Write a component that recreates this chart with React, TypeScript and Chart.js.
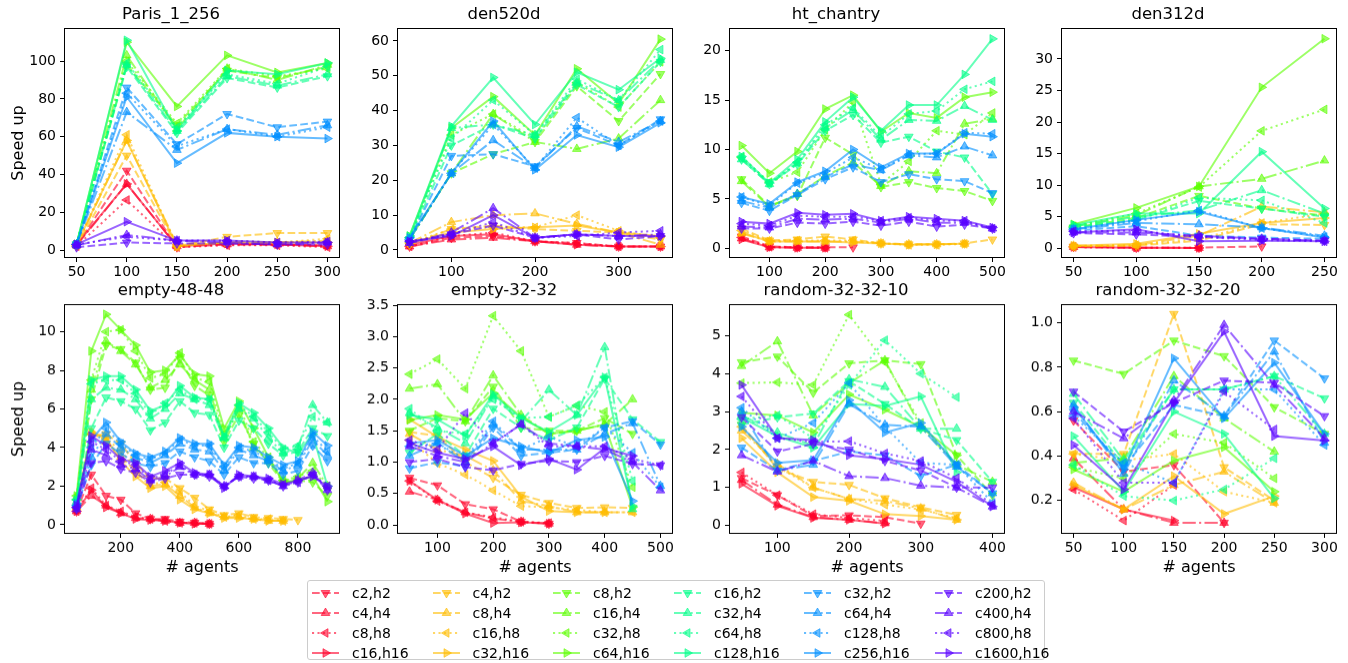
import React, { useEffect, useRef } from 'react';
import { Chart, registerables } from 'chart.js';
Chart.register(...registerables);

// ---------------- DATA ----------------
const xParis = [50, 100, 150, 200, 250, 300];
const parisRed = [[2.5, 42, 1.5, 3, 3, 2.5], [2.5, 35, 2, 3, 3, 2], [2, 26.5, 1.5, 2.5, 2.5, 1.5], [3, 35, 2, 3.5, 3, 2]];
const parisOrange = [[2, 50, 2, 7, 9, 9], [2.5, 58, 3, 4, 4, 5], [2.5, 61, 2, 5, 4, 6], [3, 58, 2, 4, 4, 4]];
const parisGreen = [[3, 98, 66, 95, 91, 97], [3, 103, 64, 96, 90, 98], [3, 100, 67, 96, 92, 96], [3, 110, 76, 103, 94, 99]];
const parisMint = [[3, 97, 62, 91, 86, 92], [3, 98, 63, 92, 87, 93], [3, 99, 65, 93, 88, 97], [3, 111, 63, 95, 93, 99]];
const parisBlue = [[3, 86, 56, 72, 65, 68], [3, 73, 53, 64, 61, 66], [3, 83, 55, 64, 60, 65], [3, 81, 46, 62, 60, 59]];
const parisPurple = [[1.5, 4, 3.5, 3.5, 3, 3], [2.5, 8, 5, 4, 3, 4], [3, 7, 5, 5, 4, 4.5], [3, 15, 5, 5, 4, 4]];

const xD520 = [50, 100, 150, 200, 250, 300, 350];
const d520Red = [[1, 3.5, 4, 2.5, 2, 1, 1], [1, 3, 3.5, 2.5, 1.5, 1, 1], [1, 4, 5, 2.5, 2, 1, 1], [1.5, 4, 4.5, 2.5, 1.5, 1, 1]];
const d520Orange = [[1.5, 6, 7, 6, 5.5, 5, 3], [2, 8, 10, 10.5, 7.5, 5, 1.5], [2, 6, 6.5, 6.5, 10, 5.5, 3.5], [2, 5, 6, 6.5, 7, 5, 4]];
const d520Green = [[3, 22, 27.5, 31, 47, 37, 50.5], [3, 22, 39, 31, 29, 32, 43], [3.5, 33, 39, 32, 48, 41, 54], [4, 35, 44, 33, 52, 42, 60.5]];
const d520Mint = [[3, 30, 36, 32, 47.5, 41, 54], [3, 35, 36, 33, 48, 43, 54.5], [3.5, 32, 43, 33, 49, 43, 57.5], [4, 35.5, 49.5, 36, 51, 46, 55]];
const d520Blue = [[3, 27, 27.5, 24, 35, 30, 37.5], [3, 22, 31.5, 23.5, 35.5, 31, 37], [3, 22, 36, 23.5, 38, 30, 37], [3.5, 22, 37, 23, 33, 29.5, 36.5]];
const d520Purple = [[2, 4.5, 7, 3.5, 4.5, 3, 4], [2, 5, 12, 3.5, 4.5, 4, 4.5], [2.5, 4.5, 8, 3.5, 4, 5, 5.5], [2.5, 4, 10, 3.5, 4.5, 4, 4]];

const xHt = [50, 100, 150, 200, 250, 300, 350, 400, 450, 500];
const htRed = [[1.2, 0.2, 0.1, 0.1, 0.1], [1.0, 0.1, 0.05, 0.05], [1.1, 0.15, 0.1, 0.05], [0.9, 0.1, 0.05, 0.05]];
const htOrange = [[2.0, 0.8, 0.9, 1.2, 0.9, 0.5, 0.4, 0.4, 0.5, 0.9], [1.5, 0.7, 0.7, 0.7, 0.7, 0.5, 0.4, 0.4, 0.45], [1.8, 0.75, 0.8, 0.8, 0.8, 0.5, 0.35, 0.35, 0.45], [1.6, 0.7, 0.7, 0.7, 0.6, 0.5, 0.35, 0.4, 0.45]];
const htGreen = [[7.0, 4.3, 5.3, 11.2, 9.5, 6.2, 6.7, 6.1, 5.8, 4.8], [6.8, 4.2, 5.5, 7.3, 8.7, 6.3, 7.8, 7.6, 12.6, 13.1], [9.2, 6.7, 7.7, 12.0, 14.8, 6.5, 8.8, 11.9, 11.5, 13.7], [10.4, 7.6, 9.8, 14.1, 15.5, 11.8, 13.7, 13.2, 15.3, 15.8]];
const htMint = [[9.0, 6.5, 8.5, 11.9, 13.5, 10.7, 11.3, 9.8, 9.2, 5.5], [9.0, 6.5, 8.6, 12.2, 14.0, 11.0, 13.0, 12.9, 14.4, 13.0], [9.3, 6.6, 8.7, 12.5, 14.2, 11.3, 13.6, 13.9, 16.1, 16.9], [9.3, 6.6, 9.0, 12.8, 15.3, 11.9, 14.5, 14.5, 17.6, 21.2]];
const htBlue = [[4.6, 3.8, 5.4, 7.0, 8.2, 6.7, 7.5, 7.0, 6.8, 5.6], [4.8, 4.1, 5.5, 7.2, 8.5, 7.9, 9.4, 9.2, 10.3, 9.4], [5.2, 4.3, 6.6, 7.6, 9.2, 8.0, 9.5, 9.6, 11.7, 11.6], [5.2, 4.5, 6.7, 7.8, 10.0, 8.2, 9.6, 9.6, 11.6, 11.3]];
const htPurple = [[2.0, 2.0, 2.6, 2.5, 2.7, 2.3, 2.7, 2.2, 2.4, 2.0], [2.2, 2.1, 3.0, 2.9, 3.0, 2.6, 3.0, 2.6, 2.6, 2.0], [2.5, 2.3, 3.3, 3.2, 3.2, 2.8, 3.1, 2.8, 2.8, 2.0], [2.7, 2.5, 3.6, 3.4, 3.5, 2.8, 3.2, 3.0, 2.8, 2.1]];

const xD312 = [50, 100, 150, 200, 250];
const d312Red = [[0.2, 0.1, 0.1, 0.3], [0.2, 0.1, 0.05], [0.2, 0.1, 0.1], [0.2, 0.1, 0.05]];
const d312Orange = [[0.3, 0.4, 1.2, 3.8, 3.7], [0.4, 0.5, 2.0, 6.6, 5.7], [0.3, 0.5, 1.5, 4.0, 5.5], [0.4, 0.7, 2.3, 4.0, 4.8]];
const d312Green = [[3.3, 4.8, 8.3, 6.3, 5.2], [3.5, 5.2, 9.8, 11.0, 13.9], [3.5, 5.5, 9.7, 18.6, 22.0], [3.8, 6.4, 9.8, 25.5, 33.2]];
const d312Mint = [[3.3, 4.5, 7.5, 6.3, 5.0], [3.5, 5.0, 6.0, 9.2, 5.5], [3.3, 4.5, 8.0, 7.6, 4.0], [3.7, 5.5, 5.5, 15.3, 6.3]];
const d312Blue = [[2.8, 3.5, 2.0, 1.7, 1.5], [3.0, 4.0, 3.8, 3.3, 2.0], [3.0, 4.3, 6.0, 3.2, 1.8], [3.0, 4.5, 5.8, 3.2, 1.7]];
const d312Purple = [[2.4, 2.2, 1.8, 1.5, 1.2], [2.5, 2.5, 2.0, 1.5, 1.2], [2.7, 2.8, 1.8, 1.3, 1.1], [2.5, 3.0, 1.1, 1.2, 1.1]];

const xE48 = [50, 100, 150, 200, 250, 300, 350, 400, 450, 500, 550, 600, 650, 700, 750, 800, 850, 900];
const e48Red = [[0.7, 2.6, 1.5, 1.3, 0.6, 0.3, 0.3, 0.15, 0.1, 0.05], [0.7, 1.5, 1.0, 0.6, 0.35, 0.3, 0.2, 0.1, 0.1, 0.05], [0.7, 1.9, 1.0, 0.7, 0.4, 0.3, 0.2, 0.1, 0.1, 0.05], [0.7, 1.8, 0.9, 0.6, 0.3, 0.25, 0.2, 0.1, 0.05, 0.05]];
const e48Orange = [[0.9, 4.6, 4.7, 4.2, 3.2, 2.4, 2.4, 1.9, 1.4, 0.8, 0.5, 0.6, 0.4, 0.35, 0.3, 0.25], [0.9, 4.8, 4.3, 3.5, 2.8, 2.0, 2.1, 1.5, 0.9, 0.6, 0.4, 0.4, 0.3, 0.2, 0.2], [0.9, 4.7, 4.5, 3.8, 3.0, 2.1, 2.2, 1.7, 1.0, 0.7, 0.4, 0.5, 0.3, 0.3, 0.2], [1.0, 4.8, 4.5, 3.3, 2.5, 1.9, 2.0, 1.3, 0.8, 0.6, 0.35, 0.35, 0.3, 0.2, 0.2]];
const e48Green = [[1.2, 6.5, 9.3, 9.1, 8.4, 7.0, 7.1, 8.6, 7.2, 6.7, 4.3, 5.7, 4.2, 3.2, 2.2, 2.3, 2.2, 1.5], [1.4, 7.0, 9.5, 9.0, 8.3, 7.1, 7.5, 8.3, 7.5, 7.0, 4.5, 6.0, 4.0, 3.3, 2.3, 2.4, 3.2, 2.0], [1.5, 7.5, 10.0, 10.1, 9.0, 7.6, 7.8, 8.9, 7.6, 7.4, 4.7, 6.2, 4.3, 3.5, 2.3, 2.5, 2.8, 2.0], [1.5, 9.0, 10.9, 10.1, 9.3, 7.9, 8.0, 8.8, 7.8, 7.7, 5.0, 6.4, 5.0, 3.5, 2.2, 2.3, 2.5, 1.2]];
const e48Mint = [[1.2, 5.0, 6.6, 6.4, 6.0, 4.9, 5.3, 6.4, 5.8, 5.7, 4.0, 5.4, 5.0, 4.2, 3.6, 3.8, 5.0, 4.6], [1.2, 6.5, 7.1, 7.0, 6.5, 5.5, 6.0, 6.8, 6.5, 6.2, 4.5, 6.0, 5.5, 4.5, 3.7, 4.0, 6.2, 5.3], [1.3, 7.3, 7.5, 7.5, 6.8, 5.7, 6.3, 7.0, 6.5, 6.5, 4.5, 6.2, 5.6, 4.8, 3.9, 4.1, 5.6, 5.3], [1.3, 7.5, 7.7, 7.7, 7.0, 5.9, 6.2, 7.2, 6.6, 6.5, 4.6, 6.3, 5.8, 5.0, 4.0, 3.7, 4.7, 2.0]];
const e48Blue = [[0.9, 3.1, 4.2, 3.7, 3.2, 3.0, 3.2, 3.8, 3.5, 3.3, 2.6, 3.5, 3.2, 3.2, 2.6, 2.8, 4.1, 3.3], [1.0, 3.5, 4.7, 4.0, 3.5, 3.2, 3.6, 4.2, 3.9, 3.8, 2.8, 3.9, 3.6, 3.3, 2.8, 3.1, 4.4, 3.6], [1.0, 4.0, 5.0, 4.2, 3.6, 3.4, 3.7, 4.4, 4.1, 4.1, 3.0, 4.0, 3.8, 3.4, 2.9, 3.2, 4.6, 3.8], [1.1, 4.4, 5.3, 4.3, 3.7, 3.5, 3.8, 4.5, 4.2, 4.2, 3.1, 4.1, 4.0, 3.5, 3.1, 3.3, 4.8, 4.1]];
const e48Purple = [[0.8, 3.2, 3.3, 2.9, 2.7, 2.2, 2.4, 2.6, 2.6, 2.5, 2.0, 2.5, 2.4, 2.3, 2.0, 2.2, 2.6, 1.8], [0.8, 3.9, 3.6, 3.1, 2.9, 2.3, 2.5, 3.0, 2.6, 2.6, 2.0, 2.5, 2.5, 2.3, 2.0, 2.3, 2.7, 1.8], [0.9, 4.3, 3.9, 3.3, 3.1, 2.4, 2.6, 3.1, 2.6, 2.6, 2.0, 2.5, 2.5, 2.3, 2.1, 2.2, 2.6, 2.0], [1.0, 4.6, 4.1, 3.4, 3.2, 2.5, 2.8, 3.2, 2.7, 2.6, 1.9, 2.6, 2.5, 2.4, 2.1, 2.3, 2.5, 2.0]];

const xE32 = [50, 100, 150, 200, 250, 300, 350, 400, 450, 500];
const e32Red = [[0.75, 0.63, 0.33, 0.25, 0.05, 0.02], [0.53, 0.4, 0.2, 0.1, 0.05, 0.02], [0.7, 0.38, 0.2, 0.12, 0.05, 0.03], [0.7, 0.4, 0.18, 0.03, 0.04, 0.02]];
const e32Orange = [[1.48, 1.42, 1.0, 0.75, 0.48, 0.35, 0.27, 0.28, 0.27], [1.45, 1.2, 1.1, 0.87, 0.38, 0.3, 0.2, 0.2, 0.2], [1.35, 0.98, 0.8, 0.55, 0.3, 0.28, 0.24, 0.2, 0.2], [1.68, 1.4, 1.2, 1.02, 0.45, 0.22, 0.2, 0.2]];
const e32Green = [[1.5, 1.7, 1.65, 2.2, 1.55, 1.5, 1.5, 1.7, 1.45], [2.17, 2.24, 1.65, 2.38, 1.75, 1.45, 1.5, 1.6, 2.0], [2.4, 2.64, 2.17, 3.33, 2.77, 1.72, 1.9, 1.8, 0.6], [1.67, 1.75, 1.68, 2.1, 1.72, 1.45, 1.5, 1.6, 0.28]];
const e32Mint = [[1.15, 1.45, 1.1, 1.85, 1.55, 1.35, 1.55, 2.33, 1.68, 1.32], [1.78, 1.55, 1.3, 2.05, 1.65, 2.15, 1.75, 2.83, 0.25], [1.85, 1.5, 1.45, 2.0, 1.7, 1.72, 1.9, 2.35, 0.7], [1.75, 1.68, 1.42, 2.08, 1.7, 1.48, 1.75, 2.35, 0.3]];
const e32Blue = [[0.9, 1.0, 0.93, 1.55, 1.1, 1.15, 1.2, 1.55, 1.65, 1.28], [1.1, 1.3, 1.0, 1.6, 1.2, 1.2, 1.2, 1.45, 1.62, 0.62], [1.25, 1.3, 1.05, 1.65, 1.2, 1.4, 1.25, 1.55, 1.15, 0.6], [1.3, 1.35, 1.1, 1.38, 1.25, 1.15, 1.35, 1.4, 0.38]];
const e32Purple = [[1.0, 1.05, 0.92, 0.87, 0.97, 1.02, 1.0, 1.1, 0.97, 0.95], [1.25, 1.1, 1.0, 1.3, 1.6, 1.3, 1.25, 1.2, 1.0, 0.55], [1.35, 1.2, 1.78, 1.3, 1.6, 1.25, 1.25, 1.25, 1.05, 0.95], [1.3, 1.15, 1.05, 1.25, 0.95, 1.05, 0.88, 1.22, 1.1]];

const xR10 = [50, 100, 150, 200, 250, 300, 350, 400];
const r10Red = [[1.25, 0.8, 0.25, 0.27, 0.22, 0.05], [1.2, 0.55, 0.22, 0.15, 0.06], [1.4, 0.8, 0.3, 0.2, 0.12], [1.1, 0.52, 0.2, 0.15, 0.05]];
const r10Orange = [[2.65, 1.5, 1.15, 1.07, 0.72, 0.48, 0.28], [2.5, 1.62, 1.0, 0.7, 0.65, 0.45, 0.15], [2.6, 1.55, 1.0, 0.7, 0.55, 0.42, 0.2], [2.3, 1.4, 0.75, 0.65, 0.3, 0.25, 0.15]];
const r10Green = [[4.3, 4.45, 3.5, 4.27, 4.35, 4.25, 1.85, 0.8], [4.2, 4.85, 2.9, 3.75, 4.35, 2.6, 1.6, 1.15], [3.75, 3.77, 3.7, 5.55, 4.3, 2.7, 1.6], [2.97, 2.9, 2.45, 3.45, 3.05, 2.6, 1.85]];
const r10Mint = [[2.65, 2.85, 2.95, 3.8, 3.2, 2.55, 2.25, 1.15], [2.9, 2.45, 2.1, 3.85, 3.65, 2.55, 2.55], [2.8, 2.9, 2.3, 3.7, 4.88, 4.0, 3.38], [2.85, 2.35, 2.05, 3.2, 3.15, 3.4, 1.4]];
const r10Blue = [[2.05, 1.45, 1.7, 1.95, 1.85, 1.3, 1.6, 0.85], [3.0, 1.45, 1.6, 3.2, 2.65, 2.6, 1.55, 0.85], [3.1, 2.3, 2.7, 3.75, 2.6, 1.65, 1.6, 0.6], [2.6, 1.65, 1.72, 3.3, 2.45, 2.7, 1.6]];
const r10Purple = [[2.85, 1.95, 2.15, 2.0, 1.7, 1.45, 1.0, 1.0], [1.85, 1.42, 1.7, 1.3, 1.25, 1.05, 1.0, 0.5], [3.4, 2.3, 2.2, 2.22, 1.9, 1.7, 1.25, 0.55], [3.7, 2.3, 2.25, 1.85, 1.75, 1.6, 1.15, 0.5]];

const xR20 = [50, 100, 150, 200, 250, 300];
const r20Red = [[0.56, 0.33, 0.36, 0.1], [0.39, 0.16, 0.1, 0.1], [0.25, 0.11, 0.27], [0.26, 0.16, 0.11]];
const r20Orange = [[0.41, 0.41, 1.04, 0.35, 0.2], [0.28, 0.16, 0.27, 0.33, 0.19], [0.41, 0.38, 0.41, 0.24, 0.19], [0.27, 0.16, 0.31, 0.14, 0.22]];
const r20Green = [[0.83, 0.77, 0.92, 0.85, 0.62, 0.5], [0.37, 0.39, 0.76, 0.57, 0.42], [0.35, 0.3, 0.5, 0.46, 0.3], [0.34, 0.24, 0.38, 0.44, 0.24]];
const r20Mint = [[0.64, 0.36, 0.7, 0.7, 0.76, 0.66], [0.68, 0.38, 0.7, 0.7, 0.76, 0.5], [0.36, 0.22, 0.2, 0.25, 0.39], [0.49, 0.24, 0.6, 0.5, 0.21]];
const r20Blue = [[0.6, 0.35, 0.63, 0.58, 0.92, 0.75], [0.63, 0.32, 0.74, 0.58, 0.87, 0.46], [0.58, 0.37, 0.28, 0.7, 0.7, 0.45], [0.62, 0.34, 0.84, 0.57, 0.82, 0.5]];
const r20Purple = [[0.69, 0.51, 0.64, 0.74, 0.73, 0.58], [0.6, 0.48, 0.65, 0.99, 0.72, 0.48], [0.57, 0.28, 0.28, 0.69, 0.52], [0.45, 0.25, 0.64, 0.96, 0.49, 0.47]];

const legendLabels = [
  ['c2,h2', 'c4,h4', 'c8,h8', 'c16,h16'],
  ['c4,h2', 'c8,h4', 'c16,h8', 'c32,h16'],
  ['c8,h2', 'c16,h4', 'c32,h8', 'c64,h16'],
  ['c16,h2', 'c32,h4', 'c64,h8', 'c128,h16'],
  ['c32,h2', 'c64,h4', 'c128,h8', 'c256,h16'],
  ['c200,h2', 'c400,h4', 'c800,h8', 'c1600,h16'],
];

// ---------------- STYLE ----------------
const FONT = "'DejaVu Sans', sans-serif";
const FAMILY_RGB = [[255, 0, 41], [255, 188, 0], [92, 255, 0], [0, 255, 137], [0, 143, 255], [88, 0, 255]];
const ALPHA = 0.6;
const DASHES = [[7.7, 3.3], [13.3, 3.3, 2.1, 3.3], [2.1, 3.4], []];
const ROTATIONS = [180, 0, 270, 90];
const rgba = (f: number) => `rgba(${FAMILY_RGB[f][0]},${FAMILY_RGB[f][1]},${FAMILY_RGB[f][2]},${ALPHA})`;

const PW = 276;
const YW = 62;
const PR = 12;
const TITLE_H = 28;

type Panel = {
  title: string; xs: number[]; fams: number[][][]; xmin: number; xmax: number; xticks: number[];
  ymin: number; ymax: number; yticks: number[]; dec: number; left: number; top: number; ph: number;
  yTitle: boolean; xTitle: boolean;
};

const panels: Panel[] = [
  { title: 'Paris_1_256', xs: xParis, fams: [parisRed, parisOrange, parisGreen, parisMint, parisBlue, parisPurple], xmin: 37.5, xmax: 312.5, xticks: [50, 100, 150, 200, 250, 300], ymin: -4.2, ymax: 117.5, yticks: [0, 20, 40, 60, 80, 100], dec: 0, left: 64, top: 28, ph: 230, yTitle: true, xTitle: false },
  { title: 'den520d', xs: xD520, fams: [d520Red, d520Orange, d520Green, d520Mint, d520Blue, d520Purple], xmin: 35, xmax: 365, xticks: [100, 200, 300], ymin: -2.3, ymax: 63.7, yticks: [0, 10, 20, 30, 40, 50, 60], dec: 0, left: 397, top: 28, ph: 230, yTitle: false, xTitle: false },
  { title: 'ht_chantry', xs: xHt, fams: [htRed, htOrange, htGreen, htMint, htBlue, htPurple], xmin: 27.5, xmax: 522.5, xticks: [100, 200, 300, 400, 500], ymin: -0.98, ymax: 22.3, yticks: [0, 5, 10, 15, 20], dec: 0, left: 729, top: 28, ph: 230, yTitle: false, xTitle: false },
  { title: 'den312d', xs: xD312, fams: [d312Red, d312Orange, d312Green, d312Mint, d312Blue, d312Purple], xmin: 40, xmax: 260, xticks: [50, 100, 150, 200, 250], ymin: -1.54, ymax: 34.9, yticks: [0, 5, 10, 15, 20, 25, 30], dec: 0, left: 1061, top: 28, ph: 230, yTitle: false, xTitle: false },
  { title: 'empty-48-48', xs: xE48, fams: [e48Red, e48Orange, e48Green, e48Mint, e48Blue, e48Purple], xmin: 7.5, xmax: 942.5, xticks: [200, 400, 600, 800], ymin: -0.47, ymax: 11.43, yticks: [0, 2, 4, 6, 8, 10], dec: 0, left: 64, top: 304, ph: 229.5, yTitle: true, xTitle: true },
  { title: 'empty-32-32', xs: xE32, fams: [e32Red, e32Orange, e32Green, e32Mint, e32Blue, e32Purple], xmin: 27.5, xmax: 522.5, xticks: [100, 200, 300, 400, 500], ymin: -0.143, ymax: 3.516, yticks: [0, 0.5, 1, 1.5, 2, 2.5, 3, 3.5], dec: 1, left: 397, top: 304, ph: 229.5, yTitle: false, xTitle: true },
  { title: 'random-32-32-10', xs: xR10, fams: [r10Red, r10Orange, r10Green, r10Mint, r10Blue, r10Purple], xmin: 32.5, xmax: 417.5, xticks: [100, 200, 300, 400], ymin: -0.22, ymax: 5.83, yticks: [0, 1, 2, 3, 4, 5], dec: 0, left: 729, top: 304, ph: 229.5, yTitle: false, xTitle: true },
  { title: 'random-32-32-20', xs: xR20, fams: [r20Red, r20Orange, r20Green, r20Mint, r20Blue, r20Purple], xmin: 37.5, xmax: 312.5, xticks: [50, 100, 150, 200, 250, 300], ymin: 0.05, ymax: 1.084, yticks: [0.2, 0.4, 0.6, 0.8, 1.0], dec: 1, left: 1061, top: 304, ph: 229.5, yTitle: false, xTitle: true },
];

const framePlugin = {
  id: 'frame',
  afterDatasetsDraw(chart: any) {
    const { ctx, chartArea } = chart;
    const l = Math.round(chartArea.left) + 0.5;
    const t = Math.round(chartArea.top) + 0.5;
    const r = Math.round(chartArea.right) - 0.5;
    const b = Math.round(chartArea.bottom) - 0.5;
    ctx.save();
    ctx.strokeStyle = '#000';
    ctx.lineWidth = 1;
    ctx.strokeRect(l, t, r - l, b - t);
    ctx.restore();
  },
};

function PanelChart({ p }: { p: Panel }) {
  const ref = useRef<HTMLCanvasElement>(null);
  const xh = p.xTitle ? 47 : 30;
  const cw = YW + PW + PR;
  const ch = TITLE_H + p.ph + xh;
  useEffect(() => {
    const datasets: any[] = [];
    let idx = 0;
    p.fams.forEach((fam, f) => {
      fam.forEach((vals, s) => {
        const c = rgba(f);
        datasets.push({
          label: legendLabels[f][s],
          data: vals.map((v, i) => ({ x: p.xs[i], y: v })),
          borderColor: c,
          backgroundColor: c,
          borderWidth: 2,
          borderDash: DASHES[s],
          pointStyle: 'triangle',
          rotation: ROTATIONS[s],
          pointRadius: 5,
          pointBorderWidth: 1,
          pointBackgroundColor: c,
          pointBorderColor: c,
          tension: 0,
          fill: false,
          order: 100 - idx,
        });
        idx++;
      });
    });
    const tickFont = { family: FONT, size: 14 };
    const grid = { display: true, drawOnChartArea: false, drawTicks: true, tickLength: 4, color: '#000', lineWidth: 1 };
    const chart = new Chart(ref.current as HTMLCanvasElement, {
      type: 'line',
      data: { datasets },
      plugins: [framePlugin],
      options: {
        animation: false,
        responsive: false,
        events: [],
        layout: { padding: { left: 0, right: PR, top: 0, bottom: 0 } },
        plugins: {
          legend: { display: false },
          tooltip: { enabled: false },
          title: { display: true, text: p.title, color: '#000', font: { family: FONT, size: 16.5, weight: 'normal' }, padding: { top: 5, bottom: 3.2 } },
        },
        scales: {
          x: {
            type: 'linear', min: p.xmin, max: p.xmax,
            afterBuildTicks: (s: any) => { s.ticks = p.xticks.map((v) => ({ value: v })); },
            afterFit: (s: any) => { s.height = xh; },
            grid, border: { display: false },
            ticks: { color: '#000', font: tickFont, padding: 2, maxRotation: 0, autoSkip: false, callback: (v: any) => String(v) },
            title: { display: p.xTitle, text: '# agents', color: '#000', font: { family: FONT, size: 16 }, padding: { top: 4, bottom: 4 } },
          },
          y: {
            type: 'linear', min: p.ymin, max: p.ymax,
            afterBuildTicks: (s: any) => { s.ticks = p.yticks.map((v) => ({ value: v })); },
            afterFit: (s: any) => { s.width = YW; },
            grid, border: { display: false },
            ticks: { color: '#000', font: tickFont, padding: 4, autoSkip: false, callback: (v: any) => Number(v).toFixed(p.dec) },
            title: { display: p.yTitle, text: 'Speed up', color: '#000', font: { family: FONT, size: 16 }, padding: { top: 7, bottom: 4 } },
          },
        },
      } as any,
    });
    return () => chart.destroy();
  }, []);
  return (
    <canvas
      ref={ref}
      width={cw}
      height={ch}
      style={{ position: 'absolute', left: p.left - YW, top: p.top - TITLE_H, width: cw, height: ch }}
    />
  );
}

const LEG_HANDLE_X = [312, 432.5, 553, 674, 804, 935];
const LEG_ROW_Y = [592.5, 612.5, 632.5, 652.5];

function Handle({ f, s }: { f: number; s: number }) {
  const c = rgba(f);
  const cx = 13.5, cy = 7, r = 5;
  const a0 = (ROTATIONS[s] * Math.PI) / 180;
  const pts = [0, 1, 2].map((k) => {
    const a = a0 + (k * 2 * Math.PI) / 3;
    return `${(cx + Math.sin(a) * r).toFixed(2)},${(cy - Math.cos(a) * r).toFixed(2)}`;
  }).join(' ');
  return (
    <svg width={27} height={14} style={{ position: 'absolute', left: 0, top: 0 }}>
      <line x1={0} y1={cy} x2={27} y2={cy} stroke={c} strokeWidth={2} strokeDasharray={DASHES[s].length ? DASHES[s].join(' ') : undefined} />
      <polygon points={pts} fill={c} stroke={c} strokeWidth={1} />
    </svg>
  );
}

function Legend() {
  const items: any[] = [];
  legendLabels.forEach((col, f) => {
    col.forEach((lab, s) => {
      const x = LEG_HANDLE_X[f];
      const y = LEG_ROW_Y[s];
      items.push(
        <div key={lab} style={{ position: 'absolute', left: x, top: y - 7, width: 27, height: 14 }}>
          <Handle f={f} s={s} />
        </div>
      );
      items.push(
        <div key={lab + 't'} style={{ position: 'absolute', left: x + 40, top: y - 10, height: 20, lineHeight: '20px', fontFamily: FONT, fontSize: 14, color: '#000', whiteSpace: 'nowrap' }}>
          {lab}
        </div>
      );
    });
  });
  return (
    <>
      <div style={{ position: 'absolute', left: 307, top: 580, width: 738, height: 80, border: '1px solid #cccccc', borderRadius: 3, background: 'rgba(255,255,255,0.8)', boxSizing: 'border-box' }} />
      {items}
    </>
  );
}

export default function App() {
  return (
    <div style={{ position: 'absolute', left: 0, top: 0, width: 1348, height: 663, background: '#fff' }}>
      {panels.map((p) => <PanelChart key={p.title} p={p} />)}
      <Legend />
    </div>
  );
}
